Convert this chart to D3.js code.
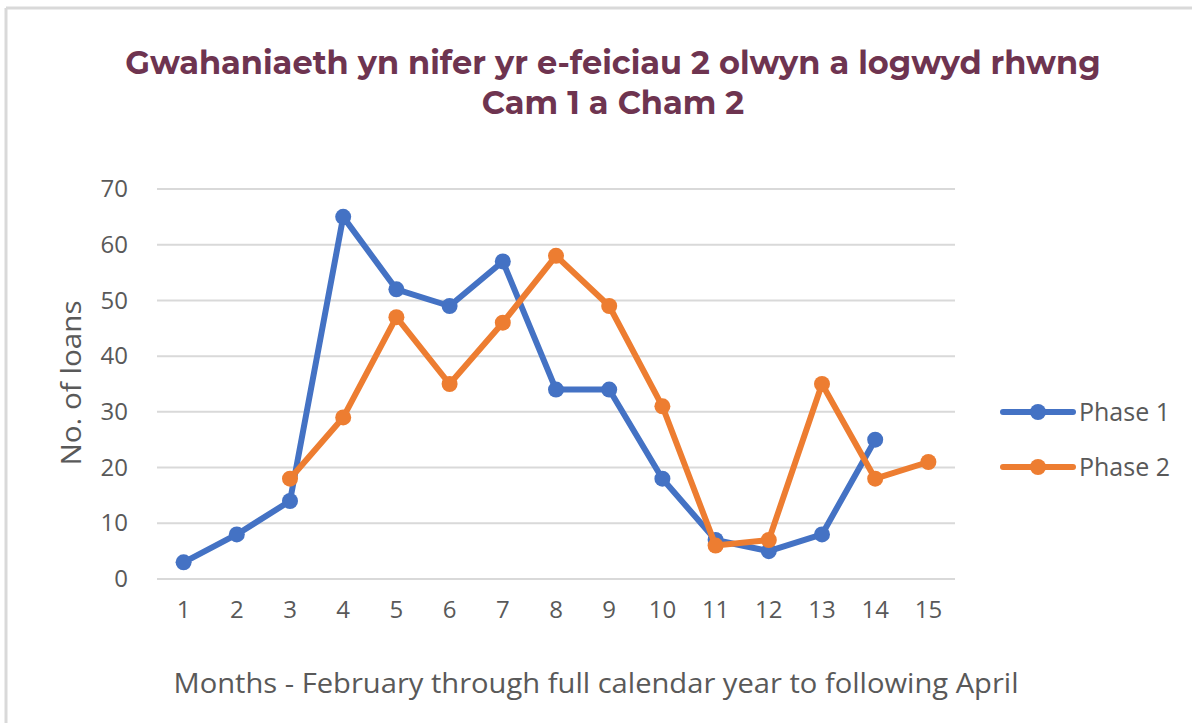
<!DOCTYPE html>
<html lang="cy">
<head>
  <meta charset="UTF-8" />
  <title>Gwahaniaeth yn nifer yr e-feiciau</title>
  <script src="https://d3js.org/d3.v7.min.js"></script>
  <style>
    html, body { margin: 0; padding: 0; background: #fff; }
    svg { display: block; }
  </style>
</head>
<body>
<div id="chart"></div>
<script>
  // data
  const months = [1, 2, 3, 4, 5, 6, 7, 8, 9, 10, 11, 12, 13, 14, 15];
  const phase1 = [3, 8, 14, 65, 52, 49, 57, 34, 34, 18, 7, 5, 8, 25, null];
  const phase2 = [null, null, 18, 29, 47, 35, 46, 58, 49, 31, 6, 7, 35, 18, 21];
  const yTicks = [0, 10, 20, 30, 40, 50, 60, 70];
  const titleLines = ['Gwahaniaeth yn nifer yr e-feiciau 2 olwyn a logwyd rhwng', 'Cam 1 a Cham 2'];

  const W = 1192, H = 723;
  const plot = { left: 157, right: 955, top: 189, bottom: 579 };

  const svg = d3.select('#chart').append('svg')
    .attr('width', W).attr('height', H);

  // frame (only top and left edges are visible in the crop)
  svg.append('line').attr('x1', 6).attr('x2', W).attr('y1', 8).attr('y2', 8)
    .attr('stroke', '#d9d9d9').attr('stroke-width', 3);
  svg.append('line').attr('x1', 6).attr('x2', 6).attr('y1', 8).attr('y2', H)
    .attr('stroke', '#d9d9d9').attr('stroke-width', 3);

  const x = d3.scaleBand().domain(months).range([plot.left, plot.right]);
  const y = d3.scaleLinear().domain([0, 70]).range([plot.bottom, plot.top]);
  const cx = d => x(d) + x.bandwidth() / 2;

  // title
  svg.append('text')
    .attr('x', 613).attr('y', 74)
    .attr('text-anchor', 'middle')
    .style('font-family', 'Montserrat, "Open Sans", sans-serif')
    .style('font-weight', 700)
    .style('font-size', '32px')
    .attr('fill', '#6e3450')
    .selectAll('tspan').data(titleLines).join('tspan')
    .attr('x', 613).attr('dy', (d, i) => i ? 40 : 0)
    .text(d => d);

  // gridlines
  svg.append('g').selectAll('line').data(yTicks).join('line')
    .attr('x1', plot.left).attr('x2', plot.right)
    .attr('y1', d => y(d)).attr('y2', d => y(d))
    .attr('stroke', '#d9d9d9').attr('stroke-width', 2);

  const axisFont = '"Open Sans", Carlito, Calibri, sans-serif';

  // y axis
  const yAxis = svg.append('g')
    .attr('transform', `translate(${plot.left - 26},0)`)
    .call(d3.axisLeft(y).tickValues(yTicks).tickSize(0));
  yAxis.select('.domain').remove();
  yAxis.selectAll('text')
    .style('font-family', axisFont).style('font-size', '24px').attr('fill', '#595959');

  // x axis
  const xAxis = svg.append('g')
    .attr('transform', `translate(0,${plot.bottom + 19})`)
    .call(d3.axisBottom(x).tickSize(0));
  xAxis.select('.domain').remove();
  xAxis.selectAll('text')
    .style('font-family', axisFont).style('font-size', '24px').attr('fill', '#595959');

  // axis titles
  svg.append('text')
    .attr('transform', `translate(81,${(plot.top + plot.bottom) / 2 - 1}) rotate(-90)`)
    .attr('text-anchor', 'middle')
    .attr('textLength', 165).attr('lengthAdjust', 'spacingAndGlyphs')
    .style('font-family', axisFont).style('font-size', '28px').attr('fill', '#595959')
    .text('No. of loans');
  svg.append('text')
    .attr('x', 596).attr('y', 693)
    .attr('text-anchor', 'middle')
    .attr('textLength', 845).attr('lengthAdjust', 'spacingAndGlyphs')
    .style('font-family', axisFont).style('font-size', '27px').attr('fill', '#595959')
    .text('Months - February through full calendar year to following April');

  const series = [
    { name: 'Phase 1', values: phase1, color: '#4472c4' },
    { name: 'Phase 2', values: phase2, color: '#ed7d31' }
  ];

  const line = d3.line()
    .defined(d => d.v !== null)
    .x(d => cx(d.m))
    .y(d => y(d.v));

  series.forEach(s => {
    const pts = months.map((m, i) => ({ m: m, v: s.values[i] }));
    const g = svg.append('g');
    g.append('path').datum(pts)
      .attr('d', line)
      .attr('fill', 'none')
      .attr('stroke', s.color)
      .attr('stroke-width', 6)
      .attr('stroke-linejoin', 'round')
      .attr('stroke-linecap', 'round');
    g.selectAll('circle').data(pts.filter(d => d.v !== null)).join('circle')
      .attr('cx', d => cx(d.m))
      .attr('cy', d => y(d.v))
      .attr('r', 8)
      .attr('fill', s.color);
  });

  // legend
  const legend = svg.append('g').selectAll('g').data(series).join('g')
    .attr('transform', (d, i) => `translate(1003,${412 + i * 55})`);
  legend.append('line')
    .attr('x1', 0).attr('x2', 70)
    .attr('stroke', d => d.color).attr('stroke-width', 6)
    .attr('stroke-linecap', 'round');
  legend.append('circle')
    .attr('cx', 35).attr('r', 8).attr('fill', d => d.color);
  legend.append('text')
    .attr('x', 76).attr('dy', '0.35em')
    .style('font-family', axisFont).style('font-size', '25px').attr('fill', '#595959')
    .text(d => d.name);
</script>
</body>
</html>
